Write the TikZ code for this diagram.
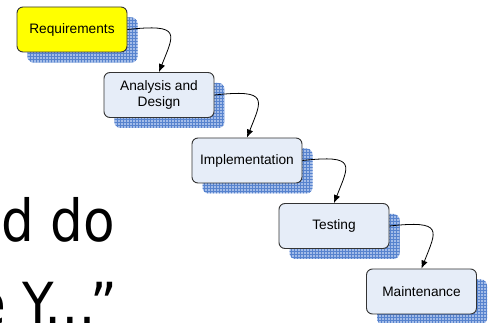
\documentclass[tikz,border=0pt]{standalone}
\usepackage{fontspec}
\setmainfont{Liberation Sans}
\newfontfamily\slidefont[FakeStretch=0.89]{DejaVu Sans}
\usetikzlibrary{arrows.meta,patterns,shadows}
\definecolor{stagefill}{HTML}{E6EDF8}
\definecolor{stageline}{HTML}{333333}
\definecolor{reqfill}{HTML}{FFFF00}
\definecolor{shadowblue}{HTML}{A3BCE8}
\definecolor{gridblue}{HTML}{5783CE}

\tikzset{
  stage/.style={draw=stageline,fill=stagefill,line width=0.9pt,rounded corners=6pt,
    minimum width=110pt,minimum height=45pt,inner sep=2pt,align=center,
    font=\fontsize{13.7}{16}\selectfont,
    general shadow={shadow xshift=10.5pt,shadow yshift=-10.5pt,draw=none,fill=shadowblue},
    general shadow={shadow xshift=10.5pt,shadow yshift=-10.5pt,draw=none,pattern=grid,pattern color=gridblue}},
  flow/.style={-{Latex[length=8pt,width=6.5pt]},black,line width=0.8pt},
  slide/.style={inner sep=0pt,font=\slidefont\fontsize{58}{82}\selectfont}
}

\begin{document}
\begin{tikzpicture}[x=1pt,y=-1pt]
  \useasboundingbox (0,0) rectangle (493,323);
  \node[stage,fill=reqfill] (req) at (72,29.5){Requirements};
  \node[stage] (ana) at (159,95){Analysis and\\Design};
  \node[stage] (impl) at (247,160.5){Implementation};
  \node[stage] (test) at (334,226){Testing};
  \node[stage] (maint) at (421.5,291.5){Maintenance};
  \draw[flow] (req.east) .. controls +(55,-6) and +(15,-38) .. (ana.north);
  \draw[flow] (ana.east) .. controls +(55,-6) and +(15,-38) .. (impl.north);
  \draw[flow] (impl.east) .. controls +(55,-6) and +(15,-38) .. (test.north);
  \draw[flow] (test.east) .. controls +(55,-6) and +(15,-38) .. (maint.north);
  % text of the slide behind the chart
  \node[slide,anchor=base west] (line1) at (1,242){d do};
  \node[slide,anchor=base west] (line2) at (-26,324){e Y\kern-9pt…\kern-6pt”};
\end{tikzpicture}
\end{document}
